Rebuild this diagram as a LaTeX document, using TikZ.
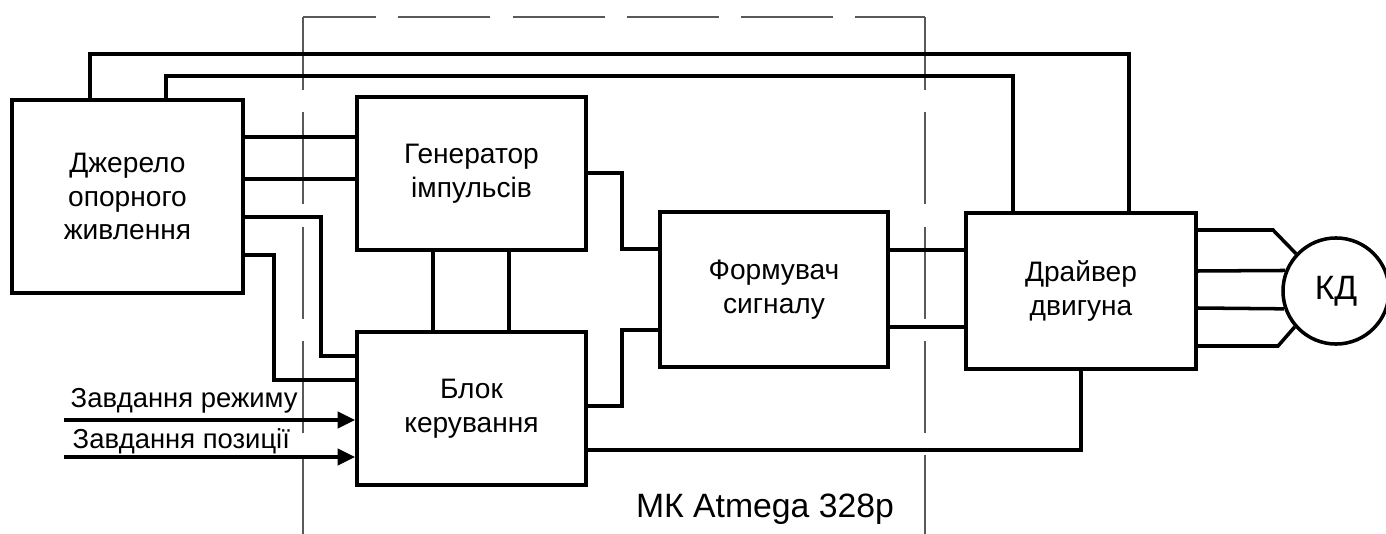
\documentclass[tikz,border=0pt]{standalone}
\usepackage{fontspec}
\setmainfont{Liberation Sans}
\usetikzlibrary{arrows.meta,positioning}

\begin{document}
\begin{tikzpicture}[x=0.01cm, y=-0.01cm,
		block/.style={draw, line width=1pt, inner sep=0pt, align=center, font=\fontsize{8}{9.6}\selectfont},
		wire/.style={line width=1pt},
		mcu/.style={draw=black!65, line width=0.6pt, dash pattern=on 26.2pt off 6.3pt, dash phase=5.4pt},
		arr/.style={line width=1pt, -{Triangle[length=5pt,width=4.6pt]}},
		lbl/.style={font=\fontsize{7.8}{9}\selectfont}]
	\useasboundingbox (0,0) rectangle (1386,534);

	% MCU frame
	\coordinate (mcuL) at (303,17);
	\coordinate (mcuR) at (925,17);
	\draw[mcu] (mcuL) -- (303,534);
	\draw[mcu] (mcuL) -- (mcuR);
	\draw[mcu] (mcuR) -- (925,534);
	\node[font=\fontsize{9.6}{11}\selectfont, anchor=base] (mk) at (765,517) {МК Atmega 328p};

	% Blocks
	\node[block, minimum width=2.31cm, minimum height=1.93cm] (dz) at (127.5,196.5) {Джерело\\опорного\\живлення};
	\node[block, minimum width=2.29cm, minimum height=1.53cm] (gen) at (471.5,173.5) {Генератор\\імпульсів};
	\node[block, minimum width=2.29cm, minimum height=1.53cm] (blok) at (471.5,408.5) {Блок\\керування};
	\node[block, minimum width=2.28cm, minimum height=1.55cm] (form) at (774,289.5) {Формувач\\сигналу};
	\node[block, minimum width=2.30cm, minimum height=1.56cm] (drv) at (1081,291) {Драйвер\\двигуна};
	\node[draw, circle, line width=1pt, minimum size=1.06cm, inner sep=0pt, font=\fontsize{9.6}{11}\selectfont] (motor) at (1336,291) {КД};

	% Supply lines over the top
	\draw[wire] (dz.north -| 90,0) -- (90,54) -| (drv.north -| 1129,0);
	\draw[wire] (dz.north -| 166,0) -- (166,76) -| (drv.north -| 1013,0);

	% Source to generator and control
	\draw[wire] (dz.east |- 0,137) -- (gen.west |- 0,137);
	\draw[wire] (dz.east |- 0,179) -- (gen.west |- 0,179);
	\draw[wire] (dz.east |- 0,217) -| (321,356) -- (blok.west |- 0,356);
	\draw[wire] (dz.east |- 0,255) -| (274,380) -- (blok.west |- 0,380);

	% Generator to control
	\draw[wire] (gen.south -| 433,0) -- (blok.north -| 433,0);
	\draw[wire] (gen.south -| 509,0) -- (blok.north -| 509,0);

	% To signal former
	\draw[wire] (gen.east |- 0,173) -| (622,249) -- (form.west |- 0,249);
	\draw[wire] (blok.east |- 0,406) -| (622,330) -- (form.west |- 0,330);

	% Former to driver
	\draw[wire] (form.east |- 0,250) -- (drv.west |- 0,250);
	\draw[wire] (form.east |- 0,327) -- (drv.west |- 0,327);
	\draw[wire] (blok.east |- 0,450) -| (drv.south);

	% Driver to motor
	\draw[wire] (drv.east |- 0,230) -- (1273,230) -- (motor.137);
	\draw[wire] (drv.east |- 0,271) -- (motor.158);
	\draw[wire] (drv.east |- 0,308) -- (motor.199);
	\draw[wire] (drv.east |- 0,346) -- (1278,346) -- (motor.221);

	% Inputs
	\coordinate (in1) at (64,420);
	\coordinate (in2) at (64,457);
	\draw[arr] (in1) -- (blok.west |- in1);
	\draw[arr] (in2) -- (blok.west |- in2);
	\node[lbl, anchor=base west, inner sep=0pt] (mode) at (70,407) {Завдання режиму};
	\node[lbl, anchor=base west, inner sep=0pt] (pos) at (72,448) {Завдання позиції};
\end{tikzpicture}
\end{document}
